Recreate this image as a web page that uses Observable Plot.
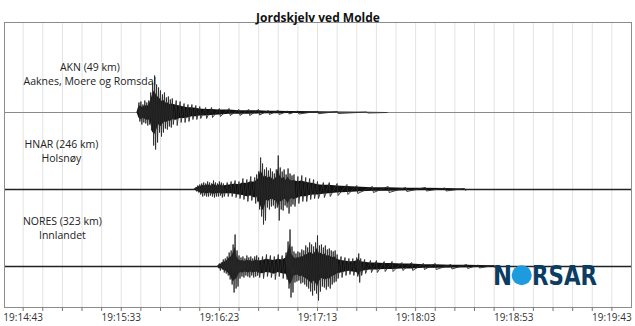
<!DOCTYPE html>
<html>
<head>
<meta charset="utf-8">
<script src="https://cdn.jsdelivr.net/npm/d3@7"></script>
<script src="https://cdn.jsdelivr.net/npm/@observablehq/plot@0.6"></script>
<style>
  html, body { margin: 0; padding: 0; background: #fff; }
  #chart { width: 635px; height: 326px; overflow: hidden; }
</style>
</head>
<body>
<div id="chart"></div>
<script>
// ---------- data ----------
const title = "Jordskjelv ved Molde";
const stations = ["AKN (49 km)", "HNAR (246 km)", "NORES (323 km)"];
const places = ["Aaknes, Moere og Romsdal", "Holsnøy", "Innlandet"];
const labelX = [34, 19.5, 20];            // seconds after 19:14:43 (label centre)
const baseLevels = [195, 118, 41];        // trace baselines (amplitude units)

// seconds after 19:14:43
const tickSeconds = [0, 50, 100, 150, 200, 250, 300];
const tickLabels = ["19:14:43", "19:15:33", "19:16:23", "19:17:13", "19:18:03", "19:18:53", "19:19:43"];

// AKN envelope
const aknT    = [58,59,60,61,62,63,64,65,66,67, 68,69,70,71,72,73,74,75,76,78, 80,82,84,86,88,90,93,96,100,105, 110,115,120,125,130,135,140,150,160,175, 185];
const aknUp   = [0,10,11,8,12,10,12,20,30,37, 28,25,22,18,20,15,16,13,14,12, 11,9,8,8,7,6,5,5,4,4, 3,3,3,2,2,1.5,1.5,1.2,1,0.5, 0];
const aknDown = [0,9,12,10,11,13,12,18,33,37, 30,20,24,20,16,17,14,15,12,13, 10,10,9,7,7,6,6,5,4,3, 3,3,2.5,2,2,1.5,1.5,1.2,1,0.5, 0];

// HNAR envelope
const hnarT    = [87,88,89,90,91,92,93,94,95,96, 97,98,99,100,101,102,104,106,108,110, 112,114,116,118,119,120,121,122,123,124, 125,126,127,128,129,130,131,132,133,134, 135,136,137,138,140,142,144,146,148,150, 153,156,160,165,170,178,186,195,205,215, 225];
const hnarUp   = [0,2,4,5,6,7,6,8,7,6, 9,7,6,8,7,6,7,8,9,8, 11,10,13,12,15,18,32,26,20,22, 19,21,18,16,20,34,22,18,20,15, 21,16,14,15,13,14,12,11,10,8, 7,7,6,5,4,3,3,2,2,1.5, 1];
const hnarDown = [0,2,3,5,7,6,7,7,6,7, 8,7,7,6,8,7,7,7,8,9, 10,12,11,14,12,20,27,35,31,18, 20,17,16,19,18,31,20,21,16,18, 24,17,15,17,14,12,12,10,9,9, 8,7,6,5,4,3,3,2,1.5,1.5, 1];

// NORES envelope
const noresT    = [99,100,101,102,103,104,105,106,107,108, 109,110,111,112,113,114,115,116,117,118, 119,120,122,124,126,128,130,132,134,135, 136,137,138,139,140,141,142,143,144,145, 146,147,148,149,150,151,152,153,154,155, 156,157,158,159,160,162,164,166,168,170, 171,172,174,177,180,184,188,193,198,204, 210,218,226,232,240];
const noresUp   = [0,3,4,7,8,10,14,16,22,32, 16,11,9,10,8,11,9,10,8,10, 11,9,10,12,11,10,12,11,14,25, 37,20,15,13,15,14,17,16,21,19, 24,22,20,24,31,21,22,19,21,17, 18,16,15,16,12,10,9,8,8,9, 13,8,7,6,6,5,5,4,4,3, 3,2,2,1.5,1.2];
const noresDown = [0,4,3,6,7,9,13,18,26,22, 20,12,10,11,9,10,11,9,11,10, 9,11,12,10,11,13,10,12,13,22, 31,26,16,15,14,17,16,18,20,22, 25,29,24,27,34,25,20,21,23,20, 22,18,16,15,12,11,9,8,9,10, 16,9,7,6,6,5,5,4,4,3, 3,2.5,2,1.5,1.2];

// ---------- build ----------
const traces = [
  {t: aknT, up: aknUp, down: aknDown},
  {t: hnarT, up: hnarUp, down: hnarDown},
  {t: noresT, up: noresUp, down: noresDown}
];
function rows(i, k) {
  const tr = traces[i], b = baseLevels[i];
  return tr.t.map((t, j) => ({t, lo: b - tr.down[j] * k, hi: b + tr.up[j] * k}));
}
// oscillating trace: each envelope sample gives one peak and one trough
function zig(i) {
  const tr = traces[i], b = baseLevels[i];
  return tr.t.flatMap((t, j) => [{t, y: b + tr.up[j]}, {t: t + 0.5, y: b - tr.down[j]}]);
}
const minorTicks = d3.range(0, 310, 10);
const labelOf = new Map(tickSeconds.map((s, i) => [s, tickLabels[i]]));
const labelRows = stations.map((s, i) => ({x: labelX[i], y: baseLevels[i], station: s, place: places[i]}));

const font = "'Open Sans', 'Noto Sans', sans-serif";
const marks = [
  Plot.gridX(minorTicks, {stroke: "#e3e3e3", strokeOpacity: 1}),
  Plot.ruleY([baseLevels[0]], {stroke: "#8a8a8a", strokeWidth: 1}),
  Plot.ruleY(baseLevels.slice(1), {stroke: "#222", strokeWidth: 1.6})
];
for (let i = 0; i < 3; i++) {
  marks.push(Plot.areaY(rows(i, 0.6), {x: "t", y1: "lo", y2: "hi", fill: "#111"}));
  marks.push(Plot.line(zig(i), {x: "t", y: "y", stroke: "#2a2a2a", strokeWidth: 0.9}));
}
marks.push(
  Plot.text(labelRows, {x: "x", y: "y", text: "station", dy: -44.5, fontSize: 10.5, fill: "#222"}),
  Plot.text(labelRows, {x: "x", y: "y", text: "place", dy: -30.5, fontSize: 10.5, fill: "#222"}),
  Plot.frame({stroke: "#8c8c8c"}),
  Plot.axisX(minorTicks, {tickSize: 4, tickPadding: 2, stroke: "#777", fill: "#333", fontSize: 10,
    tickFormat: d => labelOf.get(d) ?? ""}),
  Plot.text([title], {frameAnchor: "top", dy: -9, fontWeight: "bold", fontSize: 12, fill: "#111"})
);

const chart = Plot.plot({
  width: 635,
  height: 326,
  marginLeft: 4,
  marginRight: 4,
  marginTop: 22,
  marginBottom: 19,
  style: {fontFamily: font, background: "#fff", color: "#333", overflow: "visible"},
  x: {domain: [-9.5, 310], axis: null},
  y: {domain: [0, 285], axis: null},
  marks
});
document.getElementById("chart").appendChild(chart);

// NORSAR logo (decoration)
const svg = d3.select(chart);
const logo = svg.append("g").attr("text-anchor", "start");
logo.append("text").attr("x", 493).attr("y", 285).text("N")
  .attr("text-anchor", "start")
  .attr("font-family", "'DejaVu Sans', sans-serif").attr("font-weight", "bold")
  .attr("font-size", 26).attr("fill", "#0b3c62")
  .attr("textLength", 19).attr("lengthAdjust", "spacingAndGlyphs");
logo.append("circle").attr("cx", 521.7).attr("cy", 275.3).attr("r", 10).attr("fill", "#1e9ade");
logo.append("text").attr("x", 532).attr("y", 285).text("RSAR")
  .attr("text-anchor", "start")
  .attr("font-family", "'DejaVu Sans', sans-serif").attr("font-weight", "bold")
  .attr("font-size", 26).attr("fill", "#0b3c62")
  .attr("textLength", 65).attr("lengthAdjust", "spacingAndGlyphs");
</script>
</body>
</html>
